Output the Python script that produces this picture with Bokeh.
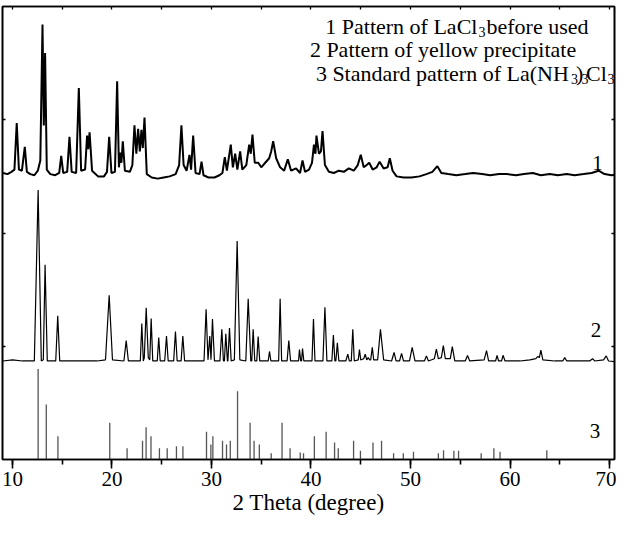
from bokeh.plotting import figure
from bokeh.models import LinearAxis, FixedTicker, SingleIntervalTicker, Label, Range1d
from bokeh.embed import file_html
from bokeh.resources import INLINE

# ---------------- data ----------------
# Pattern 1: LaCl3 before use (offset trace, arbitrary units)
p1_x = [9.05, 9.5, 9.9, 10.2, 10.43, 10.65, 10.95, 11.24, 11.45, 11.8, 12.2, 12.55, 12.8, 13.02, 13.15,
        13.28, 13.45, 13.8, 14.3, 14.7, 14.9, 15.1, 15.5, 15.73, 15.95, 16.4, 16.67, 16.9, 17.3, 17.5,
        17.62, 17.75, 18.0, 18.6, 19.2, 19.5, 19.72, 19.95, 20.3, 20.52, 20.7, 20.82, 20.95, 21.09, 21.3,
        21.8, 22.05, 22.26, 22.45, 22.63, 22.8, 22.96, 23.1, 23.27, 23.5, 24.0, 24.6, 25.2, 25.8, 26.4,
        26.75, 26.98, 27.2, 27.5, 27.79, 27.95, 28.16, 28.4, 28.8, 29.0, 29.2, 29.7, 30.3, 30.8, 31.1,
        31.34, 31.55, 31.94, 32.15, 32.38, 32.6, 32.88, 33.1, 33.5, 33.79, 33.95, 34.12, 34.35, 34.7, 35.0,
        35.4, 35.8, 36.0, 36.2, 36.5, 36.9, 37.3, 37.67, 38.0, 38.5, 38.9, 39.15, 39.4, 39.8, 40.1,
        40.3, 40.45, 40.55, 40.8, 41.0, 41.16, 41.4, 41.8, 42.3, 42.8, 43.3, 43.8, 44.3, 44.7, 45.0,
        45.3, 45.6, 45.85, 46.2, 46.6, 46.9, 47.3, 47.7, 47.92, 48.2, 48.6, 49.3, 50.1, 50.9, 51.6,
        52.2, 52.7, 53.1, 53.8, 54.6, 55.5, 56.3, 57.2, 58.0, 58.9, 59.7, 60.6, 61.4, 62.3, 63.1,
        64.0, 64.8, 65.7, 66.5, 67.4, 68.2, 68.9, 69.5, 70.2, 71.0]
p1_y = [2.53, 2.52, 2.54, 2.56, 2.97, 2.56, 2.55, 2.76, 2.54, 2.52, 2.51, 2.55, 2.64, 3.84, 2.95,
        3.59, 2.56, 2.52, 2.51, 2.53, 2.68, 2.53, 2.54, 2.85, 2.54, 2.53, 3.28, 2.55, 2.56, 2.86,
        2.74, 2.89, 2.55, 2.50, 2.50, 2.54, 2.85, 2.53, 2.54, 3.34, 2.58, 2.71, 2.62, 2.81, 2.55,
        2.54, 2.60, 2.95, 2.70, 2.92, 2.72, 2.91, 2.75, 3.02, 2.52, 2.49, 2.48, 2.49, 2.50, 2.52,
        2.60, 2.95, 2.60, 2.55, 2.69, 2.56, 2.86, 2.53, 2.52, 2.63, 2.51, 2.49, 2.49, 2.51, 2.53,
        2.67, 2.55, 2.78, 2.58, 2.70, 2.56, 2.72, 2.56, 2.60, 2.78, 2.70, 2.87, 2.62, 2.62, 2.58,
        2.62, 2.66, 2.72, 2.81, 2.66, 2.58, 2.55, 2.65, 2.55, 2.57, 2.53, 2.64, 2.54, 2.56, 2.62,
        2.78, 2.70, 2.86, 2.70, 2.72, 2.90, 2.60, 2.54, 2.53, 2.55, 2.54, 2.57, 2.55, 2.60, 2.69,
        2.58, 2.60, 2.62, 2.56, 2.58, 2.63, 2.57, 2.58, 2.66, 2.55, 2.50, 2.49, 2.49, 2.50, 2.52,
        2.54, 2.59, 2.53, 2.52, 2.51, 2.52, 2.53, 2.52, 2.51, 2.52, 2.52, 2.51, 2.52, 2.53, 2.51,
        2.52, 2.51, 2.52, 2.51, 2.52, 2.53, 2.55, 2.52, 2.51, 2.52]

# Pattern 2: yellow precipitate (offset trace)
p2_x = [9.05, 10.0, 11.0, 12.2, 12.58, 12.9, 13.1, 13.28, 13.5, 14.35, 14.55, 14.75, 15.5, 16.5, 17.5,
        18.5, 19.35, 19.72, 20.05, 21.2, 21.43, 21.65, 22.85, 23.0, 23.15, 23.25, 23.44, 23.65, 23.8, 23.94,
        24.1, 24.55, 24.7, 24.85, 25.3, 25.48, 25.65, 26.2, 26.38, 26.55, 26.95, 27.12, 27.3, 28.5, 29.25,
        29.46, 29.65, 29.83, 29.95, 30.1, 30.3, 30.85, 31.04, 31.2, 31.3, 31.44, 31.6, 31.65, 31.81, 31.98,
        32.3, 32.58, 32.85, 33.45, 33.69, 33.95, 34.05, 34.19, 34.35, 34.55, 34.69, 34.85, 35.7, 35.83, 35.97,
        36.75, 36.9, 37.05, 37.6, 37.77, 37.95, 38.75, 38.84, 38.97, 39.05, 39.15, 39.28, 40.1, 40.25, 40.4,
        41.2, 41.4, 41.6, 42.1, 42.25, 42.4, 42.5, 42.65, 42.8, 43.5, 43.7, 43.85, 44.05, 44.2, 44.35,
        44.75, 44.87, 45.0, 45.3, 45.45, 45.6, 45.75, 45.9, 46.0, 46.16, 46.3, 46.7, 46.98, 47.3, 48.1,
        48.35, 48.55, 48.9, 49.1, 49.3, 49.9, 50.17, 50.45, 51.4, 51.6, 51.8, 52.4, 52.6, 52.8, 53.1,
        53.3, 53.5, 54.0, 54.2, 54.45, 55.5, 55.73, 55.95, 57.4, 57.64, 57.85, 58.55, 58.7, 58.85, 59.15,
        59.3, 59.5, 61.0, 62.0, 62.6, 62.8, 62.95, 63.1, 63.3, 64.5, 65.3, 65.5, 65.7, 67.0, 68.0,
        68.3, 68.5, 69.4, 69.67, 69.9, 71.0]
p2_y = [0.87, 0.88, 0.87, 0.87, 2.38, 0.87, 0.88, 1.72, 0.87, 0.87, 1.27, 0.87, 0.87, 0.87, 0.87,
        0.87, 0.88, 1.45, 0.88, 0.87, 1.05, 0.87, 0.87, 1.20, 0.87, 0.90, 1.34, 0.90, 0.88, 1.245,
        0.87, 0.87, 1.077, 0.87, 0.87, 1.09, 0.87, 0.87, 1.13, 0.87, 0.87, 1.09, 0.87, 0.87, 0.87,
        1.327, 0.88, 1.09, 0.88, 1.24, 0.87, 0.87, 1.15, 0.87, 0.87, 1.11, 0.87, 0.87, 1.16, 0.87,
        0.88, 1.93, 0.88, 0.87, 1.42, 0.87, 0.87, 1.15, 0.87, 0.87, 1.086, 0.87, 0.87, 0.954, 0.87,
        0.87, 1.42, 0.87, 0.87, 1.05, 0.87, 0.87, 0.97, 0.87, 0.87, 0.98, 0.87, 0.87, 1.24, 0.87,
        0.87, 1.344, 0.87, 0.87, 1.10, 0.87, 0.87, 1.03, 0.87, 0.87, 0.93, 0.87, 0.87, 1.15, 0.87,
        0.88, 0.97, 0.88, 0.89, 0.93, 0.88, 0.90, 0.88, 0.88, 0.99, 0.88, 0.88, 1.15, 0.88, 0.87,
        0.945, 0.87, 0.87, 0.936, 0.87, 0.87, 0.99, 0.87, 0.87, 0.915, 0.87, 0.89, 0.974, 0.89, 0.90,
        1.006, 0.89, 0.89, 0.997, 0.87, 0.87, 0.918, 0.87, 0.88, 0.962, 0.87, 0.87, 0.92, 0.87, 0.87,
        0.92, 0.87, 0.87, 0.88, 0.89, 0.91, 0.90, 0.965, 0.88, 0.87, 0.87, 0.90, 0.87, 0.87, 0.87,
        0.89, 0.87, 0.88, 0.915, 0.87, 0.86]

# Pattern 3: standard pattern of La(NH3)3Cl3 (stick positions / heights)
std_pos = [12.58, 13.40, 14.57, 19.78, 21.52, 23.07, 23.43, 23.92, 24.77, 25.55, 26.48, 27.13, 29.50,
           29.94, 30.14, 31.11, 31.51, 31.89, 32.62, 33.88, 34.28, 34.81, 36.00, 37.09, 37.90, 38.92,
           39.25, 40.34, 41.52, 42.37, 42.74, 44.28, 44.97, 46.23, 47.09, 48.30, 49.28, 50.30, 52.80,
           53.32, 54.36, 54.83, 57.10, 58.38, 59.00, 63.70]
std_h = [0.80, 0.486, 0.206, 0.324, 0.10, 0.165, 0.285, 0.206, 0.10, 0.10, 0.118, 0.118, 0.245,
         0.132, 0.206, 0.165, 0.132, 0.165, 0.603, 0.324, 0.165, 0.132, 0.056, 0.324, 0.10, 0.062,
         0.056, 0.206, 0.245, 0.15, 0.10, 0.165, 0.077, 0.15, 0.165, 0.056, 0.056, 0.068, 0.056,
         0.082, 0.077, 0.077, 0.056, 0.10, 0.068, 0.082]
std_base = [0.0] * len(std_pos)

x_ticks_major = 10
top_ticks = [10, 15, 20, 25, 30, 35, 40, 45, 50, 55, 60, 65, 70]
side_ticks = [1, 2, 3]
curve_labels = ["1", "2", "3"]

FONT = "'Liberation Serif', 'Times New Roman', serif"

p = figure(width=616, height=520, x_range=Range1d(9.0, 70.5), y_range=Range1d(0, 4),
           output_backend="svg", toolbar_location=None,
           x_axis_location=None, y_axis_location=None,
           min_border_left=2, min_border_right=2, min_border_top=6, min_border_bottom=61)
p.grid.visible = False
p.background_fill_color = "white"
p.border_fill_color = "white"
p.outline_line_color = "black"
p.outline_line_width = 1.6

# bottom axis
xb = LinearAxis(ticker=SingleIntervalTicker(interval=x_ticks_major, num_minor_ticks=2),
                axis_label="2 Theta (degree)")
xb.major_tick_out = 9
xb.major_tick_in = 0
xb.minor_tick_out = 5
xb.minor_tick_in = 0
xb.axis_line_width = 1.6
xb.major_tick_line_width = 1.6
xb.minor_tick_line_width = 1.6
xb.major_label_text_font = FONT
xb.major_label_text_font_size = "21px"
xb.major_label_text_color = "black"
xb.major_label_standoff = 3
xb.axis_label_text_font = FONT
xb.axis_label_text_font_size = "23px"
xb.axis_label_text_font_style = "normal"
xb.axis_label_text_color = "black"
xb.axis_label_standoff = 1
p.add_layout(xb, "below")

# top axis (small inner ticks only, no labels)
xt = LinearAxis(ticker=FixedTicker(ticks=[], minor_ticks=top_ticks))
xt.major_tick_in = 0
xt.major_tick_out = 0
xt.minor_tick_in = 3
xt.minor_tick_out = 0
xt.axis_line_width = 1.6
xt.minor_tick_line_width = 1.3
xt.major_label_standoff = 0
p.add_layout(xt, "above")

# left / right axes (small inner ticks only, no labels)
for side in ("left", "right"):
    ya = LinearAxis(ticker=FixedTicker(ticks=[], minor_ticks=side_ticks))
    ya.major_tick_in = 0
    ya.major_tick_out = 0
    ya.minor_tick_in = 3
    ya.minor_tick_out = 0
    ya.axis_line_width = 1.6
    ya.minor_tick_line_width = 1.4
    ya.major_label_standoff = 0
    p.add_layout(ya, side)

# traces
p.line(p1_x, p1_y, line_color="black", line_width=2.0)
p.line(p2_x, p2_y, line_color="black", line_width=1.2)
p.segment(x0=std_pos, y0=std_base, x1=std_pos, y1=std_h, line_color="#555555", line_width=1.3)

# curve numbers
for txt, (lx, ly) in zip(curve_labels, [(68.8, 2.62), (68.65, 1.14), (68.54, 0.256)]):
    p.add_layout(Label(x=lx, y=ly, text=txt, text_font=FONT, text_font_size="21px",
                       text_align="center", text_baseline="middle", text_color="black"))

# legend text (pixel -> data placement helpers)
def dx(px):
    return 10 + (px - 20) / 9.95

def dy(py):
    return (467 - py) / 113.25

pieces = [
    ("1 Pattern of LaCl", 332.8, 33.5, "22px"),
    ("3", 486.0, 39.5, "14px"),
    ("before used", 494.0, 33.5, "22px"),
    ("2 Pattern of yellow precipitate", 317.4, 57.0, "22px"),
    ("3 Standard pattern of La(NH", 323.4, 80.5, "22px"),
    ("3", 578.5, 86.5, "14px"),
    (")", 583.5, 80.5, "22px"),
    ("3", 589.0, 86.5, "14px"),
    ("Cl", 593.5, 80.5, "22px"),
    ("3", 615.0, 86.5, "14px"),
]
for txt, px, py, fs in pieces:
    p.add_layout(Label(x=dx(px), y=dy(py), text=txt, text_font=FONT, text_font_size=fs,
                       text_align="left", text_baseline="alphabetic", text_color="black"))

open("out.html", "w").write(file_html(p, INLINE))
